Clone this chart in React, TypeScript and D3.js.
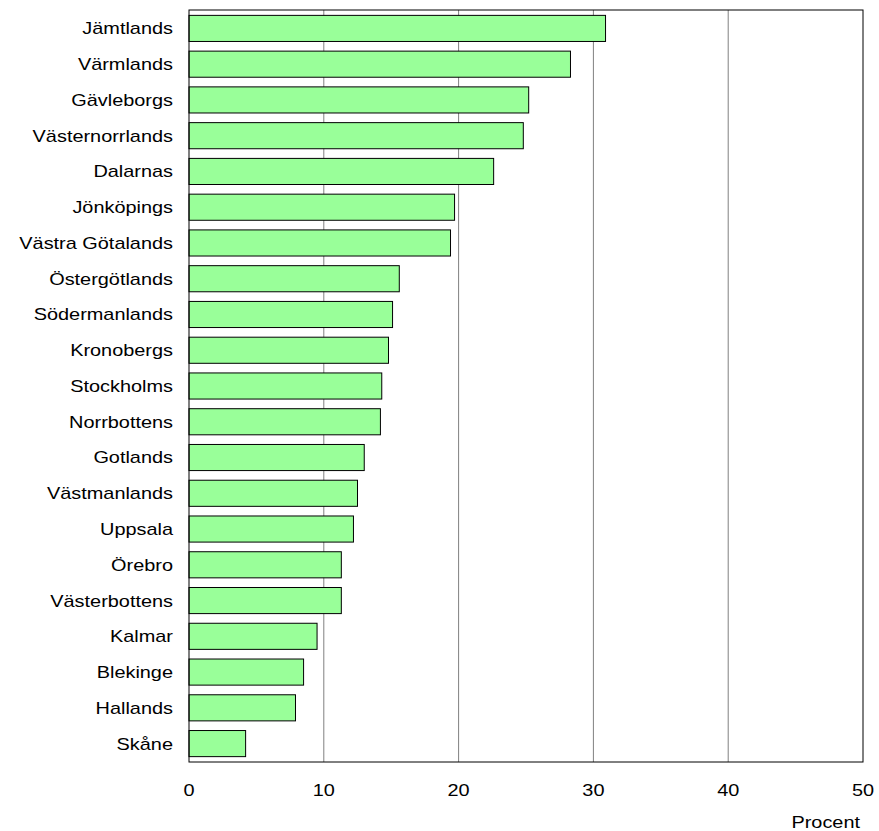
import * as d3 from 'd3';

const counties = ['Jämtlands', 'Värmlands', 'Gävleborgs', 'Västernorrlands', 'Dalarnas', 'Jönköpings', 'Västra Götalands', 'Östergötlands', 'Södermanlands', 'Kronobergs', 'Stockholms', 'Norrbottens', 'Gotlands', 'Västmanlands', 'Uppsala', 'Örebro', 'Västerbottens', 'Kalmar', 'Blekinge', 'Hallands', 'Skåne'];
const values = [30.9, 28.3, 25.2, 24.8, 22.6, 19.7, 19.4, 15.6, 15.1, 14.8, 14.3, 14.2, 13.0, 12.5, 12.2, 11.3, 11.3, 9.5, 8.5, 7.9, 4.2];
const ticks = [0, 10, 20, 30, 40, 50];

// wide label text, like the original's stretched Arial
function Label({ x, y, anchor, children }: { x: number; y: number; anchor: string; children: any }) {
  return (
    <text transform={`translate(${x},${y}) scale(1.17,1)`} textAnchor={anchor} dominantBaseline="central" fontSize={17}>{children}</text>
  );
}

export default function App() {
  const left = 189, right = 863, top = 10, bottom = 762;
  const x = d3.scaleLinear().domain([0, 50]).range([left, right]);
  const y = d3.scaleBand().domain(counties).range([top, bottom]).paddingInner(0.27).paddingOuter(0.15);
  const font = '"Liberation Sans", Arial, sans-serif';
  return (
    <svg width={879} height={831} style={{ position: 'absolute', left: 0, top: 0 }} fontFamily={font}>
      <rect width={879} height={831} fill="#fff" />
      {ticks.slice(1, -1).map(t => (
        <line key={t} x1={x(t)} x2={x(t)} y1={top} y2={bottom} stroke="#808080" strokeWidth={1} />
      ))}
      {counties.map((c, i) => (
        <g key={c}>
          <rect x={x(0)} y={y(c)!} width={x(values[i]) - x(0)} height={y.bandwidth()} fill="#99ff99" stroke="#000" strokeWidth={1} />
          <Label x={left - 16} y={y(c)! + y.bandwidth() / 2} anchor="end">{c}</Label>
        </g>
      ))}
      <rect x={left} y={top} width={right - left} height={bottom - top} fill="none" stroke="#000" strokeWidth={1} />
      {ticks.map(t => (
        <Label key={t} x={x(t)} y={790} anchor="middle">{t}</Label>
      ))}
      <Label x={860} y={822} anchor="end">Procent</Label>
    </svg>
  );
}
